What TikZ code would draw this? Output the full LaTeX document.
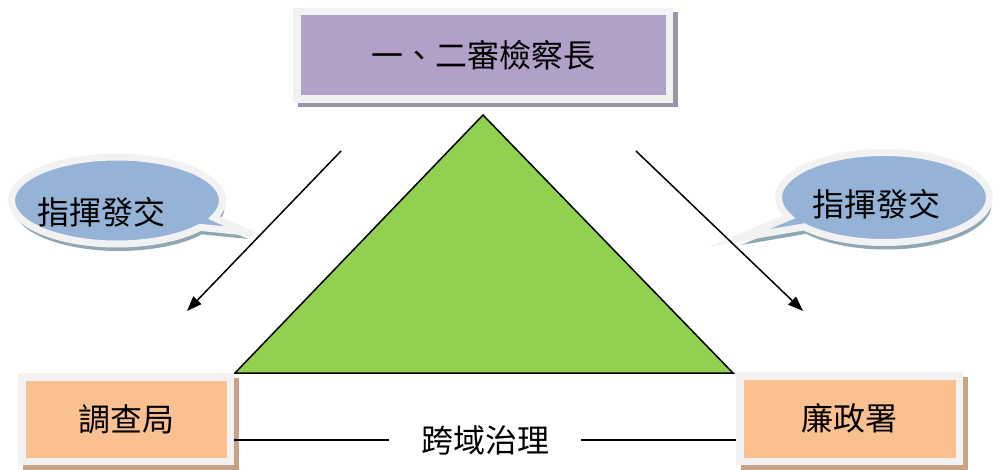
\documentclass[tikz,border=0pt]{standalone}
\usepackage{fontspec}
\newfontfamily\cjk{Noto Sans CJK TC}
\usetikzlibrary{arrows.meta, positioning, calc, shadows, shapes.callouts}

\definecolor{rimgray}{HTML}{F2F2F2}
\definecolor{boxpurple}{HTML}{B1A0C7}
\definecolor{boxorange}{HTML}{FAC090}
\definecolor{bubbleblue}{HTML}{95B3D7}
\definecolor{trigreen}{HTML}{92D050}
\definecolor{shadepurple}{HTML}{9B93A6}
\definecolor{shadeorange}{HTML}{C9A185}
\definecolor{shadeblue}{HTML}{8FA6B3}

\begin{document}
\begin{tikzpicture}[x=1pt, y=-1pt,
  cjktext/.style={font=\cjk\fontsize{32}{38}\selectfont, text=black},
  rimbox/.style 2 args={cjktext, fill=rimgray, inner sep=0pt,
    path picture={\fill[#1] ([xshift=7.5pt,yshift=-7.5pt]path picture bounding box.north west)
      rectangle ([xshift=-7.5pt,yshift=7.5pt]path picture bounding box.south east);},
    drop shadow={shadow xshift=4.5pt, shadow yshift=-4.5pt, fill=#2, opacity=1}},
  bubble/.style={ellipse callout, fill=bubbleblue, draw=rimgray, line width=7pt,
    minimum width=211pt, minimum height=87pt, inner sep=0pt,
    drop shadow={shadow xshift=2pt, shadow yshift=-7pt, fill=shadeblue, opacity=1}},
  arrowline/.style={line width=1.5pt, -{Triangle[length=15pt,width=11pt]}},
  tieline/.style={line width=1.5pt}]
\useasboundingbox (0,0) rectangle (995,470);

% Triangle
\coordinate (apex) at (483,115);
\coordinate (baseL) at (235,373);
\coordinate (baseR) at (733,373);
\draw[fill=trigreen, line width=1.5pt] (apex) -- (baseL) -- (baseR) -- cycle;

% Top box
\node[rimbox={boxpurple}{shadepurple}, minimum width=380pt, minimum height=95pt] (chief) at (483,55.5) {一、二審檢察長};

% Speech bubbles
\node[bubble, callout absolute pointer={(246,232)}] (bubL) at (117,200.5) {};
\node[cjktext] (bubLtext) at (101,212) {指揮發交};
\node[bubble, callout absolute pointer={(739,238)}, minimum height=90pt] (bubR) at (884,197.5) {};
\node[cjktext] (bubRtext) at (876,204) {指揮發交};

% Arrows
\coordinate (arrLs) at (341,151);
\coordinate (arrLe) at (187,311);
\coordinate (arrRs) at (636,151);
\coordinate (arrRe) at (803,311);
\draw[arrowline] (arrLs) -- (arrLe);
\draw[arrowline] (arrRs) -- (arrRe);

% Bottom boxes
\node[rimbox={boxorange}{shadeorange}, minimum width=216pt, minimum height=92pt] (leftbox) at (126,419) {調查局};
\node[rimbox={boxorange}{shadeorange}, minimum width=227pt, minimum height=93pt] (rightbox) at (849.5,418.5) {廉政署};

% Base label and lines
\node[cjktext, inner xsep=32pt, inner ysep=0pt] (govern) at (485,440) {跨域治理};
\draw[tieline] (govern.west -| leftbox.east) -- (govern.west);
\draw[tieline] (govern.east) -- (govern.east -| rightbox.west);
\end{tikzpicture}
\end{document}
